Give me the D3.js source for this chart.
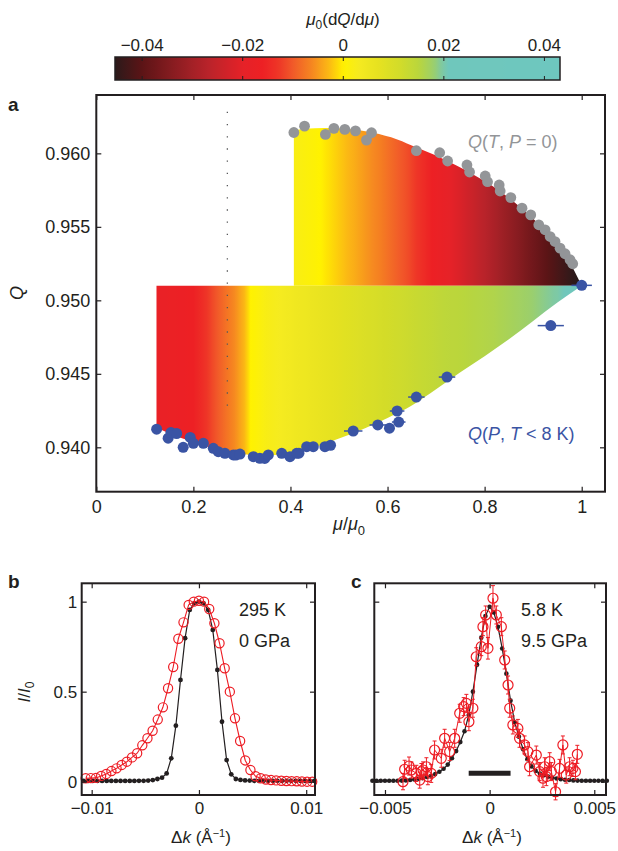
<!DOCTYPE html>
<html>
<head>
<meta charset="utf-8">
<script src="https://cdn.jsdelivr.net/npm/d3@7"></script>
<style>
  body { margin: 0; background: #fff; }
  svg { display: block; font-family: "Liberation Sans", Arial, sans-serif; }
</style>
</head>
<body>
<svg width="618" height="851"></svg>
<script>
// ---- data ----

// colour bar: mu0 dQ/dmu
const cbTicks = [-0.04, -0.02, 0, 0.02, 0.04];
const cmapValues = [-0.0455, -0.040, -0.033, -0.027, -0.020, -0.016, -0.013, -0.010, -0.006, -0.003, -0.001, 0, 0.003, 0.007, 0.011, 0.015, 0.018, 0.0195, 0.021, 0.0432];
const cmapColors = ["#2a1a1a", "#5c1416", "#8e1d22", "#b8232a", "#e52228", "#ed2024", "#ee3527", "#f15a29", "#f68a20", "#fbb715", "#fedc07", "#fff200", "#f5eb20", "#e6e220", "#d3dc29", "#bad63c", "#9bcf6c", "#80c9a0", "#6fc7bc", "#6ec7bf"];

// panel a
const aXTicks = [0, 0.2, 0.4, 0.6, 0.8, 1];
const aYTicks = [0.940, 0.945, 0.950, 0.955, 0.960];
const qBase = 0.951;
const upperEdge = [[0.407, 0.96155], [0.43, 0.96168], [0.47, 0.96172], [0.52, 0.96165], [0.57, 0.96140], [0.62, 0.96095], [0.66, 0.96040], [0.70, 0.95985], [0.74, 0.95920], [0.78, 0.95850], [0.82, 0.95770], [0.86, 0.95670], [0.90, 0.95555], [0.94, 0.95420], [0.97, 0.95290], [1.00, 0.95100]];
const upperSlope = [[0.407, 0.002], [0.45, 0.0005], [0.483, -0.001], [0.537, -0.004], [0.585, -0.007], [0.64, -0.011], [0.681, -0.015], [0.722, -0.019], [0.791, -0.026], [0.859, -0.033], [0.928, -0.040], [0.982, -0.045], [1.0, -0.046]];
const lowerEdge = [[0.124, 0.94135], [0.15, 0.94095], [0.2, 0.94035], [0.25, 0.93985], [0.3, 0.93955], [0.35, 0.93945], [0.4, 0.93960], [0.45, 0.94000], [0.5, 0.94060], [0.55, 0.94125], [0.6, 0.94200], [0.65, 0.94285], [0.7, 0.94395], [0.75, 0.94510], [0.8, 0.94620], [0.85, 0.94735], [0.9, 0.94860], [0.95, 0.94985], [1.0, 0.95100]];
const lowerSlope = [[0.124, -0.018], [0.2, -0.016], [0.22, -0.014], [0.25, -0.010], [0.285, -0.006], [0.305, -0.003], [0.318, 0], [0.35, 0.002], [0.43, 0.005], [0.54, 0.009], [0.6, 0.011], [0.72, 0.0145], [0.82, 0.016], [0.89, 0.0178], [0.95, 0.0198], [1.0, 0.024]];
const dottedMu = 0.27;
const dottedQ = [0.94208, 0.96283];

// Q(T, P = 0)
const grayPts = [[0.407, 0.96142], [0.429, 0.96185], [0.472, 0.96129], [0.4895, 0.96170], [0.512, 0.96163], [0.534, 0.96153], [0.5566, 0.96090], [0.567, 0.96140], [0.6594, 0.96018], [0.7074, 0.96004], [0.7238, 0.95948], [0.7636, 0.95921], [0.769, 0.95873], [0.8012, 0.95846], [0.806, 0.95807], [0.830, 0.95785], [0.832, 0.95744], [0.854, 0.95699], [0.877, 0.95627], [0.895, 0.95581], [0.9116, 0.95514], [0.9246, 0.95480], [0.935, 0.95434], [0.945, 0.95400], [0.9554, 0.95355], [0.9657, 0.95317], [0.976, 0.95276], [0.9815, 0.95249]];

// Q(P, T < 8 K): mu, Q, horizontal error
const bluePts = [[0.1243, 0.94123, 0.005], [0.148, 0.94062, 0.005], [0.1537, 0.94100, 0.005], [0.1655, 0.94094, 0.005], [0.179, 0.94000, 0.005], [0.1935, 0.94067, 0.005], [0.200, 0.94027, 0.005], [0.2205, 0.94027, 0.005], [0.241, 0.93993, 0.005], [0.2513, 0.93970, 0.005], [0.265, 0.93959, 0.005], [0.2822, 0.93948, 0.005], [0.2874, 0.93947, 0.005], [0.296, 0.93954, 0.005], [0.3235, 0.93936, 0.005], [0.337, 0.93925, 0.005], [0.347, 0.93924, 0.005], [0.3544, 0.93948, 0.005], [0.382, 0.93959, 0.005], [0.399, 0.93936, 0.005], [0.4128, 0.93959, 0.005], [0.4175, 0.93960, 0.005], [0.4334, 0.94004, 0.005], [0.447, 0.94004, 0.005], [0.471, 0.94004, 0.005], [0.4826, 0.94014, 0.005], [0.5293, 0.94111, 0.019], [0.5799, 0.94152, 0.017], [0.604, 0.94130, 0.008], [0.6197, 0.94247, 0.015], [0.623, 0.94172, 0.014], [0.6594, 0.94342, 0.017], [0.7225, 0.94478, 0.017], [0.9363, 0.94828, 0.027], [1.0, 0.95102, 0.021]];

// panel b (295 K, 0 GPa)
const bcYTicks = [0, 0.5, 1];
const bXTicks = [-0.01, 0, 0.01];
const bRedK = [-0.01056, -0.01008, -0.0096, -0.00912, -0.00864, -0.00816, -0.00768, -0.0072, -0.00672, -0.00624, -0.00576, -0.00528, -0.0048, -0.00432, -0.00384, -0.00336, -0.00288, -0.0024, -0.00192, -0.00144, -0.00096, -0.00048, 0, 0.00048, 0.00096, 0.00144, 0.00192, 0.0024, 0.00288, 0.00336, 0.00384, 0.00432, 0.0048, 0.00528, 0.00576, 0.00624, 0.00672, 0.0072, 0.00768, 0.00816, 0.00864, 0.00912, 0.0096, 0.01008, 0.01056];
const bRedI = [0.019, 0.02, 0.021, 0.032, 0.043, 0.059, 0.074, 0.093, 0.111, 0.135, 0.158, 0.202, 0.241, 0.283, 0.345, 0.413, 0.519, 0.637, 0.794, 0.885, 0.982, 1.0, 1.005, 1.0, 0.959, 0.88, 0.769, 0.63, 0.5, 0.352, 0.226, 0.118, 0.065, 0.03, 0.019, 0.012, 0.009, 0.007, 0.005, 0.004, 0.003, 0.002, 0.001, 0, 0];
const bBlackK = [-0.01075, -0.01032, -0.00989, -0.00946, -0.00903, -0.0086, -0.00817, -0.00774, -0.00731, -0.00688, -0.00645, -0.00602, -0.00559, -0.00516, -0.00473, -0.0043, -0.00387, -0.00344, -0.00301, -0.00258, -0.00215, -0.00172, -0.00129, -0.00086, -0.00043, 0, 0.00043, 0.00086, 0.00129, 0.00172, 0.00215, 0.00258, 0.00301, 0.00344, 0.00387, 0.0043, 0.00473, 0.00516, 0.00559, 0.00602, 0.00645, 0.00688, 0.00731, 0.00774, 0.00817, 0.0086, 0.00903, 0.00946, 0.00989, 0.01032, 0.01075];
const bBlackI = [0.004, 0.004, 0.004, 0.004, 0.004, 0.004, 0.004, 0.004, 0.004, 0.004, 0.004, 0.004, 0.005, 0.005, 0.006, 0.009, 0.015, 0.022, 0.046, 0.13, 0.311, 0.565, 0.797, 0.954, 0.991, 1.0, 0.991, 0.954, 0.843, 0.621, 0.333, 0.12, 0.041, 0.015, 0.01, 0.007, 0.006, 0.005, 0.005, 0.005, 0.005, 0.005, 0.005, 0.005, 0.005, 0.005, 0.005, 0.005, 0.005, 0.005, 0.005];

// panel c (5.8 K, 9.5 GPa)
const cXTicks = [-0.005, 0, 0.005];
const cBlackK = [-0.0056, -0.0054, -0.0052, -0.005, -0.0048, -0.0046, -0.0044, -0.0042, -0.004, -0.0038, -0.0036, -0.0034, -0.0032, -0.003, -0.0028, -0.0026, -0.0024, -0.0022, -0.002, -0.0018, -0.0016, -0.0014, -0.0012, -0.001, -0.0008, -0.0006, -0.0004, -0.0002, 0, 0.0002, 0.0004, 0.0006, 0.0008, 0.001, 0.0012, 0.0014, 0.0016, 0.0018, 0.002, 0.0022, 0.0024, 0.0026, 0.0028, 0.003, 0.0032, 0.0034, 0.0036, 0.0038, 0.004, 0.0042, 0.0044, 0.0046, 0.0048, 0.005, 0.0052, 0.0054, 0.0056];
const cBlackI = [0.005, 0.005, 0.005, 0.005, 0.005, 0.005, 0.005, 0.006, 0.007, 0.009, 0.012, 0.016, 0.02, 0.026, 0.033, 0.042, 0.055, 0.072, 0.095, 0.13, 0.17, 0.22, 0.28, 0.37, 0.5, 0.65, 0.8, 0.92, 0.972, 0.94, 0.86, 0.74, 0.6, 0.45, 0.33, 0.25, 0.18, 0.125, 0.085, 0.06, 0.045, 0.036, 0.028, 0.022, 0.018, 0.014, 0.011, 0.009, 0.007, 0.006, 0.005, 0.005, 0.005, 0.005, 0.005, 0.005, 0.005];
// dk, I/I0, vertical error
const cRed = [[-0.00414, 0.0, 0.045], [-0.00406, 0.069, 0.05], [-0.00385, 0.087, 0.05], [-0.00374, 0.065, 0.045], [-0.0035, 0.046, 0.045], [-0.00334, 0.009, 0.045], [-0.00326, 0.056, 0.045], [-0.00318, 0.065, 0.045], [-0.00302, 0.083, 0.05], [-0.00295, 0.028, 0.045], [-0.00279, 0.046, 0.05], [-0.00263, 0.176, 0.05], [-0.00231, 0.13, 0.05], [-0.00215, 0.241, 0.05], [-0.00191, 0.167, 0.05], [-0.00167, 0.241, 0.05], [-0.00143, 0.38, 0.05], [-0.00124, 0.417, 0.05], [-0.00111, 0.435, 0.05], [-0.00099, 0.333, 0.05], [-0.0008, 0.408, 0.05], [-0.00064, 0.694, 0.05], [-0.0004, 0.75, 0.05], [-0.00032, 0.861, 0.05], [-0.00019, 0.926, 0.05], [-0.00008, 0.741, 0.06], [0.00016, 1.019, 0.07], [0.00032, 0.926, 0.05], [0.00056, 0.861, 0.05], [0.00072, 0.676, 0.05], [0.00088, 0.537, 0.05], [0.00096, 0.408, 0.05], [0.00111, 0.315, 0.05], [0.00135, 0.296, 0.05], [0.00143, 0.241, 0.05], [0.00167, 0.204, 0.05], [0.00183, 0.167, 0.05], [0.00191, 0.083, 0.05], [0.00223, 0.148, 0.05], [0.00239, 0.056, 0.05], [0.00255, 0.019, 0.05], [0.00263, 0.083, 0.05], [0.00271, 0.028, 0.05], [0.00287, 0.111, 0.05], [0.00295, 0.056, 0.05], [0.00315, -0.056, 0.045], [0.00334, 0.074, 0.05], [0.0035, 0.204, 0.05], [0.00366, 0.037, 0.045], [0.00382, 0.083, 0.05], [0.00398, 0.074, 0.045], [0.0041, 0.056, 0.045], [0.00419, 0.152, 0.05]];
const resolutionBar = [-0.001, 0.001, 0.047];

// ---- drawing ----
const ink = "#231f20";
const red = "#ed1c24";
const FONT = '"Liberation Sans", Arial, sans-serif';

const svg = d3.select("svg");
const defs = svg.append("defs");
const cmap = d3.scaleLinear().domain(cmapValues).range(cmapColors).clamp(true);

// gradient along x, sampled through the colour map
function addGradient(id, slopes, x) {
  const x1 = x(slopes[0][0]), x2 = x(slopes[slopes.length - 1][0]);
  const g = defs.append("linearGradient").attr("id", id)
    .attr("gradientUnits", "userSpaceOnUse")
    .attr("x1", x1).attr("x2", x2).attr("y1", 0).attr("y2", 0);
  for (let i = 0; i < slopes.length - 1; i++) {
    const [m0, s0] = slopes[i], [m1, s1] = slopes[i + 1];
    for (let j = 0; j < 8; j++) {
      const t = j / 8;
      const m = m0 + (m1 - m0) * t, s = s0 + (s1 - s0) * t;
      g.append("stop").attr("offset", (x(m) - x1) / (x2 - x1)).attr("stop-color", cmap(s));
    }
  }
  const last = slopes[slopes.length - 1];
  g.append("stop").attr("offset", 1).attr("stop-color", cmap(last[1]));
}

// ---------- colour bar ----------
const cb = d3.scaleLinear().domain([-0.0454, 0.0431]).range([115, 560]);
const cbGrad = defs.append("linearGradient").attr("id", "cbGrad")
  .attr("gradientUnits", "userSpaceOnUse")
  .attr("x1", cb.range()[0]).attr("x2", cb.range()[1]).attr("y1", 0).attr("y2", 0);
d3.range(0, 1.0001, 0.01).forEach(t => {
  const v = cb.domain()[0] + t * (cb.domain()[1] - cb.domain()[0]);
  cbGrad.append("stop").attr("offset", t).attr("stop-color", cmap(v));
});
svg.append("rect").attr("x", 115).attr("y", 57).attr("width", 445).attr("height", 23)
  .attr("fill", "url(#cbGrad)").attr("stroke", ink).attr("stroke-width", 1.5);
cbTicks.forEach(t => {
  svg.append("line").attr("x1", cb(t)).attr("x2", cb(t)).attr("y1", 57).attr("y2", 61).attr("stroke", ink).attr("stroke-width", 1);
  svg.append("line").attr("x1", cb(t)).attr("x2", cb(t)).attr("y1", 76).attr("y2", 80).attr("stroke", ink).attr("stroke-width", 1);
  svg.append("text").attr("x", cb(t)).attr("y", 50.5).attr("text-anchor", "middle")
    .attr("font-size", 17).attr("fill", ink)
    .text(t === 0 ? "0" : d3.format(".2f")(t).replace("-", "\u2013"));
});
const cbTitle = svg.append("text").attr("x", 343).attr("y", 25).attr("text-anchor", "middle")
  .attr("font-size", 17).attr("fill", ink);
cbTitle.append("tspan").attr("font-style", "italic").text("\u03bc");
cbTitle.append("tspan").attr("font-size", 12).attr("dy", 4).text("0");
cbTitle.append("tspan").attr("dy", -4).text("(d");
cbTitle.append("tspan").attr("font-style", "italic").text("Q");
cbTitle.append("tspan").text("/d");
cbTitle.append("tspan").attr("font-style", "italic").text("\u03bc");
cbTitle.append("tspan").text(")");

// ---------- panel a ----------
const xA = d3.scaleLinear().domain([0, 1.048]).range([96.3, 605]);
const yA = d3.scaleLinear().domain([0.93698, 0.96397]).range([491.7, 95]);

addGradient("upGrad", upperSlope, xA);
addGradient("lowGrad", lowerSlope, xA);

const area = d3.area().x(d => xA(d[0])).y0(yA(qBase)).y1(d => yA(d[1])).curve(d3.curveMonotoneX);
svg.append("path").datum(upperEdge).attr("d", area).attr("fill", "url(#upGrad)");
svg.append("path").datum(lowerEdge).attr("d", area).attr("fill", "url(#lowGrad)");

svg.append("line")
  .attr("x1", xA(dottedMu)).attr("x2", xA(dottedMu))
  .attr("y1", yA(dottedQ[1])).attr("y2", yA(dottedQ[0]))
  .attr("stroke", "#58595b").attr("stroke-width", 1.3).attr("stroke-dasharray", "1.3,10.9");

svg.append("g").selectAll("circle").data(grayPts).join("circle")
  .attr("cx", d => xA(d[0])).attr("cy", d => yA(d[1])).attr("r", 5.4).attr("fill", "#939598");

const blue = "#3a54a4";
const gBlue = svg.append("g");
gBlue.selectAll("line").data(bluePts).join("line")
  .attr("x1", d => xA(d[0] - d[2])).attr("x2", d => xA(d[0] + d[2]))
  .attr("y1", d => yA(d[1])).attr("y2", d => yA(d[1]))
  .attr("stroke", blue).attr("stroke-width", 1.5);
gBlue.selectAll("circle").data(bluePts).join("circle")
  .attr("cx", d => xA(d[0])).attr("cy", d => yA(d[1])).attr("r", 5.5).attr("fill", blue);

function styleAxis(g, size) {
  g.attr("font-family", FONT).attr("font-size", size).attr("color", ink);
  g.select(".domain").remove();
  g.selectAll(".tick line").attr("stroke-width", 1.2);
}

function frame(x, y, size, xTicks, yTicks, xFmt, yFmt, padX, padY) {
  const [x0, x1] = x.range(), [y0, y1] = y.range();
  svg.append("g").attr("transform", `translate(0,${y0})`)
    .call(d3.axisBottom(x).tickValues(xTicks).tickSize(-5).tickPadding(padX).tickFormat(xFmt))
    .call(g => styleAxis(g, size));
  svg.append("g").attr("transform", `translate(0,${y1})`)
    .call(d3.axisTop(x).tickValues(xTicks).tickSize(-5).tickFormat(""))
    .call(g => styleAxis(g, size));
  svg.append("g").attr("transform", `translate(${x0},0)`)
    .call(d3.axisLeft(y).tickValues(yTicks).tickSize(-5).tickPadding(padY).tickFormat(yFmt))
    .call(g => styleAxis(g, size));
  svg.append("g").attr("transform", `translate(${x1},0)`)
    .call(d3.axisRight(y).tickValues(yTicks).tickSize(-5).tickFormat(""))
    .call(g => styleAxis(g, size));
  svg.append("rect").attr("x", x0).attr("y", y1).attr("width", x1 - x0).attr("height", y0 - y1)
    .attr("fill", "none").attr("stroke", ink).attr("stroke-width", 2);
}

frame(xA, yA, 18, aXTicks, aYTicks, d3.format("~g"), d3.format(".3f"), 8.5, 6);

const lblUp = svg.append("text").attr("x", 468).attr("y", 148).attr("font-size", 18).attr("fill", "#939598");
lblUp.append("tspan").attr("font-style", "italic").text("Q");
lblUp.append("tspan").text("(");
lblUp.append("tspan").attr("font-style", "italic").text("T");
lblUp.append("tspan").text(", ");
lblUp.append("tspan").attr("font-style", "italic").text("P");
lblUp.append("tspan").text(" = 0)");

const lblLow = svg.append("text").attr("x", 468).attr("y", 440).attr("font-size", 18).attr("fill", blue);
lblLow.append("tspan").attr("font-style", "italic").text("Q");
lblLow.append("tspan").text("(");
lblLow.append("tspan").attr("font-style", "italic").text("P");
lblLow.append("tspan").text(", ");
lblLow.append("tspan").attr("font-style", "italic").text("T");
lblLow.append("tspan").text(" < 8 K)");

const xlabA = svg.append("text").attr("x", 333).attr("y", 530).attr("font-size", 18).attr("fill", ink);
xlabA.append("tspan").attr("font-style", "italic").text("\u03bc");
xlabA.append("tspan").text("/");
xlabA.append("tspan").attr("font-style", "italic").text("\u03bc");
xlabA.append("tspan").attr("font-size", 13).attr("dy", 5).text("0");

svg.append("text").attr("transform", "translate(23,293) rotate(-90)").attr("text-anchor", "middle")
  .attr("font-size", 18).attr("font-style", "italic").attr("fill", ink).text("Q");

// ---------- panels b and c ----------
const yBC = d3.scaleLinear().domain([-0.074, 1.102]).range([795, 583.3]);
const xB = d3.scaleLinear().domain([-0.01093, 0.01082]).range([81.7, 315]);
const xC = d3.scaleLinear().domain([-0.00551, 0.00556]).range([374.3, 606]);

const line = x => d3.line().x(d => x(d[0])).y(d => yBC(d[1]));

// b: black
const bBlack = bBlackK.map((k, i) => [k, bBlackI[i]]);
svg.append("path").datum(bBlack).attr("d", line(xB)).attr("fill", "none").attr("stroke", ink).attr("stroke-width", 1.2);
svg.append("g").selectAll("circle").data(bBlack).join("circle")
  .attr("cx", d => xB(d[0])).attr("cy", d => yBC(d[1])).attr("r", 2.4).attr("fill", ink);
// b: red
const bRed = bRedK.map((k, i) => [k, bRedI[i]]);
svg.append("path").datum(bRed).attr("d", line(xB)).attr("fill", "none").attr("stroke", red).attr("stroke-width", 1.1);
svg.append("g").selectAll("circle").data(bRed).join("circle")
  .attr("cx", d => xB(d[0])).attr("cy", d => yBC(d[1])).attr("r", 4.6)
  .attr("fill", "none").attr("stroke", red).attr("stroke-width", 1.2);

const fmtK = d => d === 0 ? "0" : d3.format("~g")(d).replace("-", "\u2013");
frame(xB, yBC, 17, bXTicks, bcYTicks, fmtK, d3.format("~g"), 7, 4.5);

// c: black
const cBlack = cBlackK.map((k, i) => [k, cBlackI[i]]);
svg.append("path").datum(cBlack).attr("d", line(xC)).attr("fill", "none").attr("stroke", ink).attr("stroke-width", 1.2);
svg.append("g").selectAll("circle").data(cBlack).join("circle")
  .attr("cx", d => xC(d[0])).attr("cy", d => yBC(d[1])).attr("r", 2.3).attr("fill", ink);
// c: resolution bar
svg.append("line").attr("x1", xC(resolutionBar[0])).attr("x2", xC(resolutionBar[1]))
  .attr("y1", yBC(resolutionBar[2])).attr("y2", yBC(resolutionBar[2]))
  .attr("stroke", ink).attr("stroke-width", 5);
// c: red with error bars
const cSorted = cRed.slice().sort((a, b) => a[0] - b[0]);
svg.append("path").datum(cSorted).attr("d", line(xC)).attr("fill", "none").attr("stroke", red).attr("stroke-width", 1);
const gErr = svg.append("g").attr("stroke", red).attr("stroke-width", 1);
cRed.forEach(d => {
  const cx = xC(d[0]), yt = yBC(d[1] + d[2]), yb = yBC(d[1] - d[2]);
  gErr.append("line").attr("x1", cx).attr("x2", cx).attr("y1", yt).attr("y2", yb);
  gErr.append("line").attr("x1", cx - 2).attr("x2", cx + 2).attr("y1", yt).attr("y2", yt);
  gErr.append("line").attr("x1", cx - 2).attr("x2", cx + 2).attr("y1", yb).attr("y2", yb);
});
svg.append("g").selectAll("circle").data(cRed).join("circle")
  .attr("cx", d => xC(d[0])).attr("cy", d => yBC(d[1])).attr("r", 5)
  .attr("fill", "none").attr("stroke", red).attr("stroke-width", 1.2);

frame(xC, yBC, 17, cXTicks, bcYTicks, fmtK, "", 7, 4.5);

// annotations
function note(x, y, s) {
  svg.append("text").attr("x", x).attr("y", y).attr("font-size", 18).attr("fill", ink).text(s);
}
note(239, 616, "295 K");
note(239, 647, "0 GPa");
note(521, 616, "5.8 K");
note(521, 647, "9.5 GPa");

const ylabB = svg.append("text").attr("transform", "translate(30,692) rotate(-90)").attr("text-anchor", "middle")
  .attr("font-size", 17).attr("fill", ink);
ylabB.append("tspan").attr("font-style", "italic").text("I");
ylabB.append("tspan").text("/");
ylabB.append("tspan").attr("font-style", "italic").text("I");
ylabB.append("tspan").attr("font-size", 12).attr("dy", 4).text("0");

function dkLabel(cx) {
  const t = svg.append("text").attr("x", cx).attr("y", 843).attr("text-anchor", "middle")
    .attr("font-size", 17).attr("fill", ink);
  t.append("tspan").text("\u0394");
  t.append("tspan").attr("font-style", "italic").text("k");
  t.append("tspan").text(" (\u00c5");
  t.append("tspan").attr("font-size", 11).attr("dy", -6).text("\u22121");
  t.append("tspan").attr("dy", 6).text(")");
}
dkLabel(201);
dkLabel(492);

// panel letters
function letter(x, y, s) {
  svg.append("text").attr("x", x).attr("y", y).attr("font-size", 19).attr("font-weight", "bold").attr("fill", ink).text(s);
}
letter(8, 111, "a");
letter(8, 588, "b");
letter(351, 588, "c");
</script>
</body>
</html>
